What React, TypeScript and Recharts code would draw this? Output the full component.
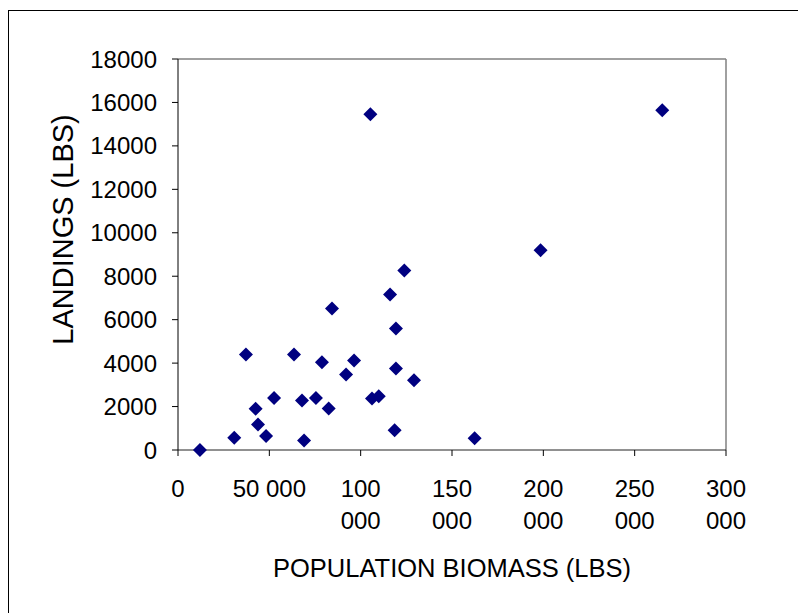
import { ScatterChart, Scatter, XAxis, YAxis, ReferenceLine } from 'recharts'

const biomass = [
  12000, 30800, 37200, 42500, 43800, 48200, 52600, 63500, 67900, 69000,
  75500, 78800, 82500, 84300, 92000, 96400, 105300, 106200, 109900, 116100,
  118600, 119300, 119300, 123900, 129200, 162400, 198500, 265100,
]
const landings = [
  0, 560, 4400, 1900, 1170, 640, 2390, 4400, 2280, 440,
  2390, 4040, 1910, 6510, 3480, 4120, 15460, 2370, 2480, 7160,
  910, 5590, 3750, 8260, 3210, 545, 9200, 15640,
]

const xTicks = [0, 50000, 100000, 150000, 200000, 250000, 300000]
const xTickLines = [['0'], ['50 000'], ['100', '000'], ['150', '000'], ['200', '000'], ['250', '000'], ['300', '000']]
const yTicks = [0, 2000, 4000, 6000, 8000, 10000, 12000, 14000, 16000, 18000]

const points = biomass.map((b, i) => ({ biomass: b, landings: landings[i] }))

const FONT = '"Liberation Sans", Arial, sans-serif'

function Diamond(props: any) {
  const { cx, cy } = props
  const r = 7
  return <path d={`M${cx},${cy - r}L${cx + r},${cy}L${cx},${cy + r}L${cx - r},${cy}Z`} fill="#000080" />
}

function XTick(props: any) {
  const { x, y, payload } = props
  const idx = xTicks.indexOf(payload.value)
  const lines = idx >= 0 ? xTickLines[idx] : [String(payload.value)]
  return (
    <text x={x} y={y} textAnchor="middle" fill="#000" fontSize={24} fontFamily={FONT}>
      {lines.map((l, i) => (
        <tspan key={i} x={x} dy={i === 0 ? '0.71em' : 32}>
          {l}
        </tspan>
      ))}
    </text>
  )
}

function YTitle(props: any) {
  const vb = props.viewBox
  const cx = vb.x + 73
  const cy = vb.y + vb.height / 2 - 25
  return (
    <text x={cx} y={cy} transform={`rotate(-90 ${cx} ${cy})`} textAnchor="middle" fill="#000" fontSize={29} fontFamily={FONT}>
      LANDINGS (LBS)
    </text>
  )
}

export default function App() {
  return (
    <div style={{ position: 'absolute', left: 0, top: 0, width: 798, height: 613, overflow: 'hidden', background: '#fff' }}>
      <div
        style={{
          position: 'absolute',
          left: 8,
          top: 10,
          width: 900,
          height: 700,
          borderTop: '1px solid #000',
          borderLeft: '1px solid #000',
        }}
      />
      <div style={{ position: 'absolute', left: 0, top: 0 }}>
        <ScatterChart width={798} height={613} margin={{ top: 59, right: 72, bottom: 0, left: 0 }}>
          <XAxis
            type="number"
            dataKey="biomass"
            domain={[0, 300000]}
            ticks={xTicks}
            interval={0}
            height={163}
            tickSize={6}
            tickMargin={24}
            axisLine={{ stroke: '#222' }}
            tickLine={{ stroke: '#000' }}
            tick={<XTick />}
            label={{
              value: 'POPULATION BIOMASS (LBS)',
              position: 'insideBottom',
              offset: 36,
              fill: '#000',
              fontSize: 25.5,
              fontFamily: FONT,
            }}
          />
          <YAxis
            type="number"
            dataKey="landings"
            domain={[0, 18000]}
            ticks={yTicks}
            interval={0}
            width={178}
            tickSize={6}
            tickMargin={15}
            axisLine={{ stroke: '#000' }}
            tickLine={{ stroke: '#000' }}
            tick={{ fill: '#000', fontSize: 24, fontFamily: FONT }}
            label={<YTitle />}
          />
          <ReferenceLine y={18000} stroke="#808080" strokeWidth={1.5} />
          <ReferenceLine x={300000} stroke="#808080" strokeWidth={1.5} />
          <Scatter data={points} shape={<Diamond />} isAnimationActive={false} />
        </ScatterChart>
      </div>
    </div>
  )
}
